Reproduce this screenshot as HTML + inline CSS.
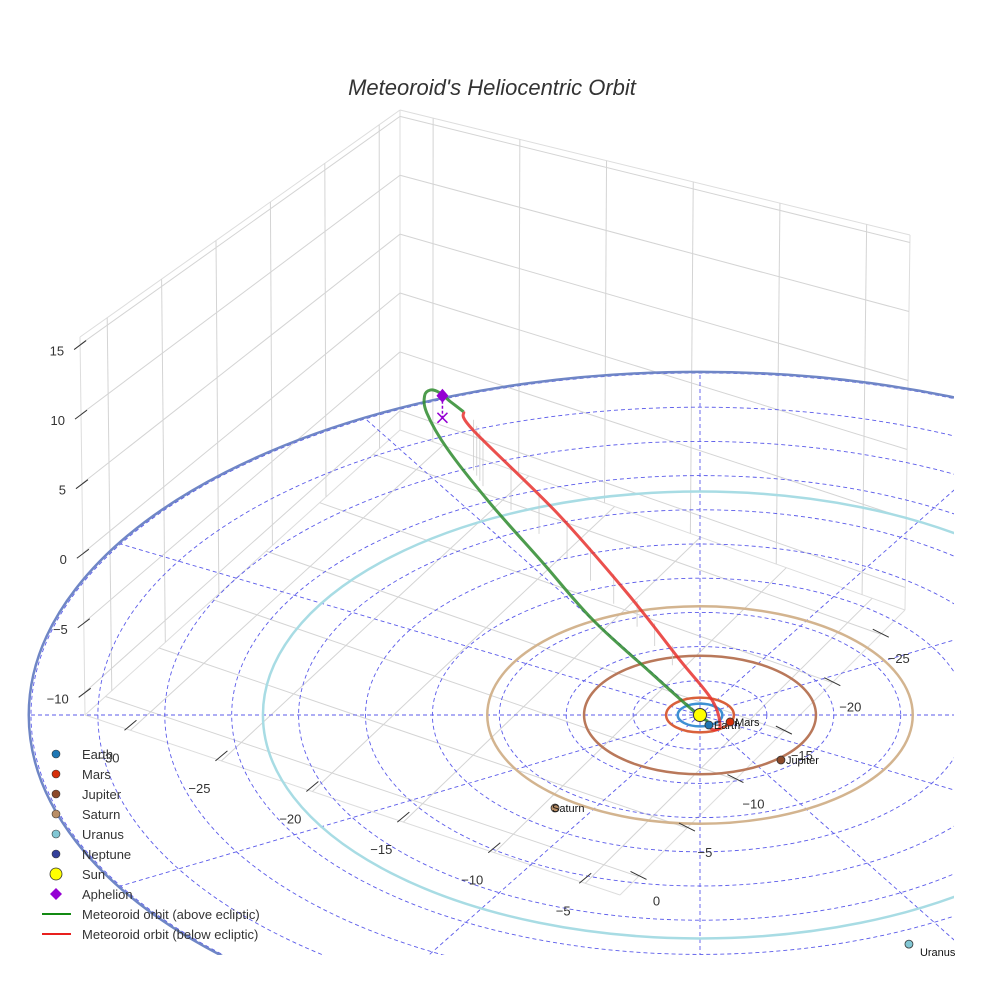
<!DOCTYPE html>
<html><head><meta charset="utf-8">
<style>
html,body{margin:0;padding:0;background:#fff;width:984px;height:984px;overflow:hidden;}
svg{display:block;font-family:"Liberation Sans",sans-serif;overflow:hidden;}
</style></head>
<body>
<svg id="chart" width="984" height="984" viewBox="0 0 984 984" xmlns="http://www.w3.org/2000/svg">
<defs><clipPath id="plotclip"><rect x="0" y="0" width="954" height="955"/></clipPath></defs>
<rect width="984" height="984" fill="#fff"/>
<text x="492" y="95" text-anchor="middle" font-size="22" font-style="italic" fill="#333">Meteoroid's Heliocentric Orbit</text>
<g id="box"></g>
<g id="plane" clip-path="url(#plotclip)"></g>
<g id="ticks"></g>
<g id="marks"></g>
<g id="legend"></g>
</svg>
<script>
// ---- data ----
const xTicks=[-30,-25,-20,-15,-10,-5];
const yTicks=[0,-5,-10,-15,-20,-25];
const zTicks=[-10,-5,0,5,10,15];
const gridRings=[3,6,9,12,15,18,21,24,27,30];
const radialAngles=[0,30,60,90,120,150,180,210,240,270,300,330];
const planetNames=["Earth","Mars","Jupiter","Saturn","Uranus","Neptune"];
const planetOrbitRadius=[1,1.52,5.2,9.54,19.6,30.1];
const planetX=[0.4,1.35,3.63,-6.5,9.37];
const planetY=[-0.88,-0.61,-3.95,-8.16,-20.1];
const planetColors=["#1f77b4","#d62f0a","#8c4a2a","#b98e66","#82c7d4","#33409a"];
const orbitColors=["#3d90d3","#d9603b","#b9785a","#d3b48f","#a8dce4","#6f86c6"];
const greenU=[0.35,-0.2,-2.24,-4.8,-7.04,-9.42,-11.35,-12.25,-12.35,-12.1,-11.7,-11.2,-10.6];
const greenV=[-0.55,0.2,3.77,8.33,13.33,18.6,23.4,26.5,28.0,28.5,28.3,27.5,26.6];
const redU=[-10.6,-10.18,-6.41,-3.27,-0.9,0.54,0.9,0.67,0.45];
const redV=[26.6,25.0,17.72,10.7,4.82,1.32,-0.88,-1.32,-1.14];
const aphelionU=-11.55, aphelionV=28.0, aphelionZ=2;

// ---- scales ----
const cx=700, cy=715, sx=22.3, sy=11.4;
function P(u,v){return [cx+sx*u, cy-sy*v];}
const Fb=[400,430],Fl=[85,715],Ff=[620,895],Fr=[905,610];
const Tb=[400,110],Tl=[80,337],Tr=[910,235];
function lerp(a,b,t){return [a[0]+(b[0]-a[0])*t,a[1]+(b[1]-a[1])*t];}
function xFrac(x){return 0.085+0.17*(x+30)/5;}
function yFrac(y){return 0.065+0.17*(-y)/5;}
function zFrac(z){return 0.06+0.184*(z+10)/5;}

const NS="http://www.w3.org/2000/svg";
function el(tag,attrs,parent){const e=document.createElementNS(NS,tag);for(const k in attrs)e.setAttribute(k,attrs[k]);parent.appendChild(e);return e;}
function line(p,q,attrs,parent){return el("line",Object.assign({x1:p[0],y1:p[1],x2:q[0],y2:q[1]},attrs),parent);}

const box=document.getElementById("box");
const G={stroke:"#d4d4d4","stroke-width":1};
[[Fb,Tb],[Fl,Tl],[Fr,Tr],[Tb,Tl],[Tb,Tr],[Fb,Fl],[Fb,Fr],[Fl,Ff],[Ff,Fr]].forEach(e=>{
  const l=line(e[0],e[1],{stroke:"#ddd","stroke-width":1},box);
  
  
});
xTicks.forEach(x=>{
  const t=xFrac(x);
  const l1=line(lerp(Fl,Ff,t),lerp(Fb,Fr,t),G,box);
  
  
  const bb=lerp(Fb,Fl,1-t), top=lerp(Tb,Tl,1-t);
  const l2=line(bb,top,G,box);
  
  
});
yTicks.forEach(y=>{
  const t=yFrac(y);
  const la=line(lerp(Ff,Fr,t),lerp(Fl,Fb,t),G,box);
  
  
  const l2=line(lerp(Fb,Fr,t),lerp(Tb,Tr,t),G,box);
  
  
});
zTicks.forEach(z=>{
  const t=zFrac(z);
  const b=lerp(Fb,Tb,t), l=lerp(Fl,Tl,t), r=lerp(Fr,Tr,t);
  const l1=line(l,b,G,box);
  
  
  const l2=line(b,r,G,box);
  
  
});

const tk=document.getElementById("ticks");
xTicks.forEach(x=>{
  const p=lerp(Fl,Ff,xFrac(x));
  const l=line([p[0]+6,p[1]-10],[p[0]-6,p[1]],{stroke:"#333","stroke-width":1},tk);
  
  
  const t=el("text",{x:p[0]-22,y:p[1]+32,"font-size":13,fill:"#333","text-anchor":"middle"},tk);
  t.textContent=(x<0?"\u2212"+(-x):x);
  
  
});
yTicks.forEach(y=>{
  const p=lerp(Ff,Fr,yFrac(y));
  const l=line([p[0]-8,p[1]-5],[p[0]+8,p[1]+3],{stroke:"#333","stroke-width":1},tk);
  
  
  const t=el("text",{x:p[0]+18,y:p[1]+29,"font-size":13,fill:"#333","text-anchor":"middle"},tk);
  t.textContent=(y<0?"\u2212"+(-y):y);
  
  
});
zTicks.forEach(z=>{
  const p=lerp(Fl,Tl,zFrac(z));
  const l=line([p[0]-6,p[1]+5],[p[0]+6,p[1]-4],{stroke:"#333","stroke-width":1},tk);
  
  
  const t=el("text",{x:p[0]-16,y:p[1]+11,"font-size":13,fill:"#333","text-anchor":"end"},tk);
  t.textContent=(z<0?"\u2212"+(-z):z);
  
  
});

const pl=document.getElementById("plane");
const D={fill:"none",stroke:"#5b5bea","stroke-width":0.9,"stroke-dasharray":"4,3"};
gridRings.forEach(r=>{
  const e=el("ellipse",Object.assign({cx:cx,cy:cy,rx:sx*r,ry:sy*r},D),pl);
  
  
});
radialAngles.forEach(a=>{
  const th=a*Math.PI/180, R=30;
  const l=line([cx,cy],P(R*Math.cos(th),R*Math.sin(th)),D,pl);
  
  
});
planetOrbitRadius.forEach((r,i)=>{
  const e=el("ellipse",{cx:cx,cy:cy,rx:sx*r,ry:sy*r,fill:"none",stroke:orbitColors[i],"stroke-width":2.5},pl);
  
  
});

const mk=document.getElementById("marks");
// smooth Catmull-Rom path through projected points
function path(us,vs){
  const pts=us.map((u,i)=>P(u,vs[i]));
  let d="M"+pts[0][0].toFixed(1)+","+pts[0][1].toFixed(1);
  for(let i=0;i<pts.length-1;i++){
    const p0=pts[Math.max(0,i-1)],p1=pts[i],p2=pts[i+1],p3=pts[Math.min(pts.length-1,i+2)];
    const c1=[p1[0]+(p2[0]-p0[0])/6,p1[1]+(p2[1]-p0[1])/6];
    const c2=[p2[0]-(p3[0]-p1[0])/6,p2[1]-(p3[1]-p1[1])/6];
    d+=` C${c1[0].toFixed(1)},${c1[1].toFixed(1)} ${c2[0].toFixed(1)},${c2[1].toFixed(1)} ${p2[0].toFixed(1)},${p2[1].toFixed(1)}`;
  }
  return d;
}
function drops(us,vs,n,len){
  for(let i=0;i<us.length-1;i++){
    for(let k=0;k<n;k++){
      const t=k/n;
      const p=P(us[i]+(us[i+1]-us[i])*t, vs[i]+(vs[i+1]-vs[i])*t);
      if(p[1]>690) continue;
      const q=[p[0]+10,p[1]+8];
      const l=line(q,[q[0],q[1]+len*(1-(p[1]-380)/400)],{stroke:"#ccc","stroke-width":0.8},mk);
      
      
    }
  }
}
drops(redU.slice(0,5),redV.slice(0,5),3,55);
const g=el("path",{d:path(greenU,greenV),fill:"none",stroke:"#2e8b2e","stroke-width":3,"stroke-opacity":0.85,"stroke-linejoin":"round"},mk);


const rd=el("path",{d:path(redU,redV),fill:"none",stroke:"#e8312e","stroke-width":3,"stroke-opacity":0.85,"stroke-linejoin":"round"},mk);


const ap=P(aphelionU,aphelionV);
const ad=line([ap[0],ap[1]],[ap[0],ap[1]+aphelionZ*11],{stroke:"#9400d3","stroke-width":1.5,"stroke-dasharray":"3,2"},mk);


const ax=el("path",{d:`M${ap[0]-5},${ap[1]+aphelionZ*11-5} l10,10 M${ap[0]+5},${ap[1]+aphelionZ*11-5} l-10,10`,stroke:"#9400d3","stroke-width":1.5},mk);


const adm=el("path",{d:`M${ap[0]},${ap[1]-7} l6,7 l-6,7 l-6,-7z`,fill:"#9400d3"},mk);



planetX.forEach((u,i)=>{
  const p=P(u,planetY[i]);
  const c=el("circle",{cx:p[0],cy:p[1],r:4,fill:planetColors[i],stroke:"#333","stroke-width":0.8},mk);
  
  
  const t=el("text",{x:p[0]+(i===3?-3:(i===4?11:5)),y:p[1]+(i===4?12:4),"font-size":11,fill:"#111"},mk);
  t.textContent=planetNames[i];
  
  
});
const sun=el("circle",{cx:cx,cy:cy,r:6.5,fill:"#ffff00",stroke:"#333","stroke-width":1},mk);



const lg=document.getElementById("legend");
const legItems=["Earth","Mars","Jupiter","Saturn","Uranus","Neptune","Sun","Aphelion","Meteoroid orbit (above ecliptic)","Meteoroid orbit (below ecliptic)"];
legItems.forEach((name,i)=>{
  const y=754+20*i;
  if(i<6){
    const c=el("circle",{cx:56,cy:y,r:4,fill:planetColors[i],stroke:"#333","stroke-width":0.6},lg);
    
    
  } else if(i===6){
    const c=el("circle",{cx:56,cy:y,r:6,fill:"#ffff00",stroke:"#333","stroke-width":0.8},lg);
    
    
  } else if(i===7){
    const c=el("path",{d:`M56,${y-6} l6,6 l-6,6 l-6,-6z`,fill:"#9400d3"},lg);
    
    
  } else {
    const c=line([42,y],[71,y],{stroke:i===8?"#138a13":"#e8201e","stroke-width":2},lg);
    
    
  }
  const t=el("text",{x:82,y:y+5,"font-size":13,fill:"#333"},lg);
  t.textContent=name;
  
  
});
</script>
</body></html>
